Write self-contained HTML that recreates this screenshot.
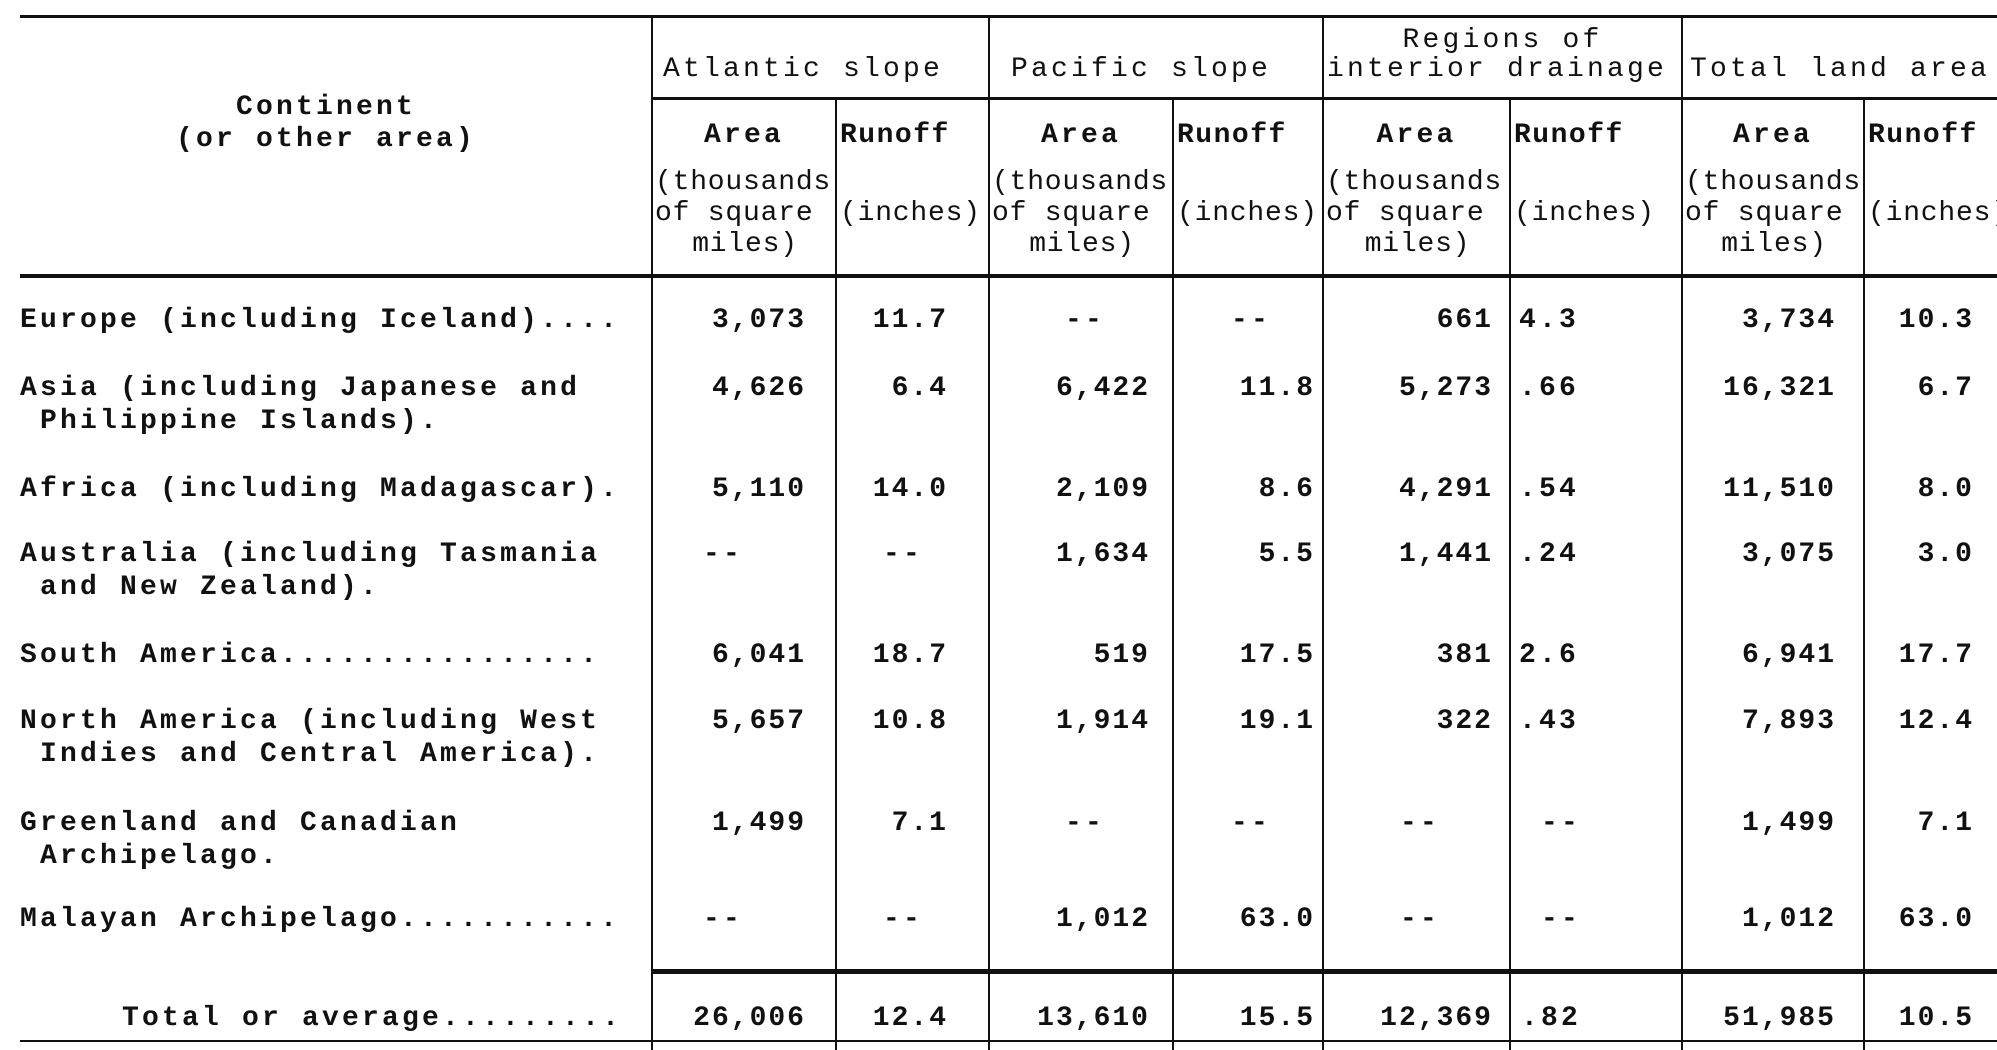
<!DOCTYPE html>
<html><head><meta charset="utf-8">
<style>
html,body{margin:0;padding:0;background:#fff;}
#t{position:relative;width:1997px;height:1050px;overflow:hidden;background:#fff;font-family:"Liberation Mono",monospace;font-size:28px;letter-spacing:3.2px;color:#111;font-weight:bold;}
.x{position:absolute;white-space:pre;line-height:28px;}
.n{font-weight:normal;}
.h{position:absolute;background:#111;}
</style></head>
<body>
<div id="t">
  <div class="h" style="left:20px;top:15px;width:1977px;height:3px"></div>
  <div class="h" style="left:652px;top:97px;width:1345px;height:3px"></div>
  <div class="h" style="left:20px;top:274px;width:1977px;height:4px"></div>
  <div class="h" style="left:652px;top:969px;width:1345px;height:5px"></div>
  <div class="h" style="left:20px;top:1040px;width:1977px;height:2px"></div>

  <div class="x" style="left:0;width:652px;text-align:center;top:94px">Continent</div>
  <div class="x" style="left:0;width:652px;text-align:center;top:126px">(or other area)</div>
  <div class="x n" style="left:663px;top:56px">Atlantic slope</div>
  <div class="x n" style="left:1011px;top:56px">Pacific slope</div>
  <div class="x n" style="left:1323px;width:359px;text-align:center;top:27px">Regions of</div>
  <div class="x n" style="left:1327px;top:56px">interior drainage</div>
  <div class="x n" style="left:1690px;top:56px">Total land area</div>
</div>
<script>
var T=document.getElementById('t');
var vlines=[652,836,989,1173,1323,1510,1682,1864];
var groupLines=[652,989,1323,1682];
var labels=[["Europe (including Iceland)...."],["Asia (including Japanese and"," Philippine Islands)."],["Africa (including Madagascar)."],["Australia (including Tasmania"," and New Zealand)."],["South America................"],["North America (including West"," Indies and Central America)."],["Greenland and Canadian"," Archipelago."],["Malayan Archipelago..........."]];
var rowY=[321,389,490,555,656,722,824,920];
var atlArea=["3,073","4,626","5,110","--","6,041","5,657","1,499","--"];
var atlRunoff=["11.7","6.4","14.0","--","18.7","10.8","7.1","--"];
var pacArea=["--","6,422","2,109","1,634","519","1,914","--","1,012"];
var pacRunoff=["--","11.8","8.6","5.5","17.5","19.1","--","63.0"];
var intArea=["661","5,273","4,291","1,441","381","322","--","--"];
var intRunoff=["4.3",".66",".54",".24","2.6",".43","--","--"];
var totArea=["3,734","16,321","11,510","3,075","6,941","7,893","1,499","1,012"];
var totRunoff=["10.3","6.7","8.0","3.0","17.7","12.4","7.1","63.0"];
var totals=["26,006","12.4","13,610","15.5","12,369",".82","51,985","10.5"];
var cols=[{d:atlArea,r:806,c:723,n:'atlantic-area'},{d:atlRunoff,r:948,c:903,n:'atlantic-runoff'},{d:pacArea,r:1150,c:1085,n:'pacific-area'},{d:pacRunoff,r:1315,c:1251,n:'pacific-runoff'},{d:intArea,r:1493,c:1420,n:'interior-area'},{d:intRunoff,l:1519,c:1561,n:'interior-runoff'},{d:totArea,r:1836,c:1770,n:'total-area'},{d:totRunoff,r:1974,c:1930,n:'total-runoff'}];
function add(txt,css,cls){var e=document.createElement('div');e.className='x'+(cls?' '+cls:'');e.textContent=txt;e.style.cssText=css;T.appendChild(e);return e;}
vlines.forEach(function(x,i){
  var e=document.createElement('div');e.className='h';
  
  
  var top=groupLines.indexOf(x)>=0?15:97;
  e.style.cssText='left:'+(x-1)+'px;top:'+top+'px;width:2px;height:'+(1050-top)+'px';
  T.appendChild(e);
});
cols.forEach(function(c,i){
  var left=vlines[i],right=(i<7?vlines[i+1]:2010);
  var w=right-left;
  if(i%2==0){
    var a=add('Area','left:'+left+'px;width:'+w+'px;text-align:center;top:122px');
    
    ['(thousands','of square','miles)'].forEach(function(s,k){
      var e=add(s,'left:'+(left+3)+'px;width:'+(w-4)+'px;text-align:'+(k==2?'center':'left')+';top:'+(169+k*31)+'px;letter-spacing:0.8px','n');
      
    });
  } else {
    var r=add('Runoff','left:'+(left+4)+'px;top:122px;letter-spacing:1.5px');
    
    var u=add('(inches)','left:'+(left+4)+'px;top:200px;letter-spacing:0.8px','n');
    
  }
});
labels.forEach(function(l,i){
  l.forEach(function(s,k){
    var e=add(s,'left:20px;top:'+(rowY[i]-14+k*33)+'px');
    
    
  });
  cols.forEach(function(c){
    var v=c.d[i],e;
    if(v=='--') e=add(v,'left:'+(c.c-20)+'px;width:40px;text-align:center;top:'+(rowY[i]-14)+'px');
    else if(c.l) e=add(v,'left:'+c.l+'px;top:'+(rowY[i]-14)+'px');
    else e=add(v,'right:'+(1997-c.r)+'px;top:'+(rowY[i]-14)+'px;letter-spacing:2px');
    
    
  });
});
var tl=add('Total or average.........','left:122px;top:1005px');


cols.forEach(function(c,i){
  var e;
  if(c.l) e=add(totals[i],'left:'+(c.l+2)+'px;top:1005px');
  else e=add(totals[i],'right:'+(1997-c.r)+'px;top:1005px;letter-spacing:2px');
  
  
});
</script>
</body></html>
